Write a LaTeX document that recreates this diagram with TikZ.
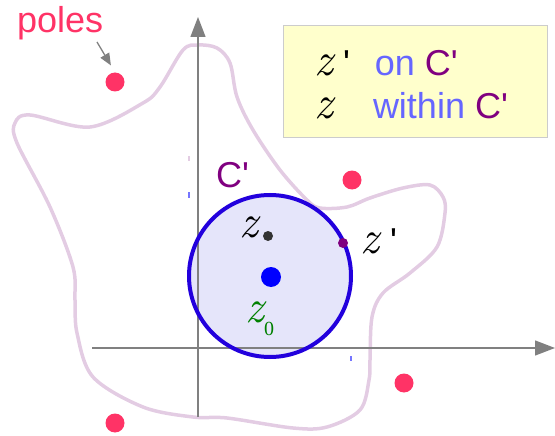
\documentclass[tikz,border=0pt]{standalone}
\usepackage{fontspec}
\newfontfamily\sansf{Liberation Sans}
\newfontfamily\serf{Liberation Serif}
\usetikzlibrary{arrows.meta}

\definecolor{polered}{HTML}{FF3366}
\definecolor{cpurple}{HTML}{800080}
\definecolor{lilac}{HTML}{E3CCE3}
\definecolor{ringblue}{HTML}{2200DD}
\definecolor{discfill}{HTML}{E5E5FA}
\definecolor{txtblue}{HTML}{6666FF}
\definecolor{notey}{HTML}{FFFFCC}
\definecolor{zgreen}{HTML}{008000}

\newcommand{\zvar}{{\fontsize{47}{47}\selectfont\rmfamily\itshape z}}
\newcommand{\aq}{{\sansf\textquotesingle}}

\tikzset{
  pole/.style={circle, fill=polered, inner sep=0pt, minimum width=18pt, minimum height=19pt},
  dot/.style={circle, inner sep=0pt, minimum size=10pt},
  axis/.style={gray, line width=1.4, -{Triangle[length=20pt,width=15pt]}},
  contour/.style={lilac, line width=3.5},
  lbl/.style={inner sep=0pt, anchor=base west},
  sanstxt/.style={font=\fontsize{36}{42}\selectfont\sansf}
}

\begin{document}
\begin{tikzpicture}[x=1pt,y=-1pt]
    \useasboundingbox (0,0) rectangle (555,436);

    % the contour C'
    \draw[contour] plot[smooth cycle, tension=.55] coordinates {
      (198,45) (217,48) (230,63) (237,97) (253,130) (280,170) (307,200)
      (320,208) (347,207) (370,198) (403,188) (430,185) (443,197) (445,213)
      (437,247) (410,273) (383,293) (372,317) (370,360) (369,380) (360,410)
      (327,427) (293,428) (227,418) (193,417) (143,407) (93,377) (77,333)
      (75,300) (73,267) (50,207) (17,143) (15,123) (30,115) (90,127)
      (143,103) (160,87) (183,50)};

    \fill[discfill] (270,276) circle(81);

    % axes
    \draw[axis] (92,348) -- (555,348);
    \draw[axis] (198,417) -- (198,17);

    \draw[ringblue, line width=4] (270,276) circle(81);

    % small marks
    \fill[lilac] (188,156) rectangle (190,161);
    \fill[txtblue!90] (188,192) rectangle (190,198);
    \fill[txtblue!90] (350,356) rectangle (352,361);

    % poles
    \node[pole] (p1) at (115,82) {};
    \node[pole] (p2) at (352,180) {};
    \node[pole] (p3) at (404,383) {};
    \node[pole] (p4) at (115,423) {};

    \node[lbl, text=polered, font=\fontsize{36}{40}\selectfont\sansf] (poles) at (17,33) {poles};
    \coordinate (ptail) at (97,42);
    \draw[gray, line width=1.3, -{Triangle[length=12pt,width=10pt]}, shorten >=8pt] (ptail) -- (p1.north);

    % points
    \node[circle, fill=blue, inner sep=0pt, minimum width=17pt, minimum height=20pt] (zc) at (271,277) {};
    \node[dot, fill=black!80] (zd) at (268,236) {};
    \node[dot, fill=cpurple] (zpd) at (343,243) {};

    \node[lbl] (zlab) at (239,237) {\zvar};
    \node[lbl, sanstxt] (zplab) at (360,253) {\zvar\hspace{11pt}\aq};
    \node[lbl, text=zgreen] (z0lab) at (245,322) {\zvar\raisebox{-13pt}{\fontsize{20}{20}\selectfont\serf 0}};
    \node[lbl, sanstxt, text=cpurple] (clab) at (216,187) {C\aq};

    % legend
    \draw[black!20, fill=notey] (283,25) rectangle (547,137);
    \node[lbl, sanstxt] (leg1) at (314,76)
      {\zvar\hspace{10pt}\aq\hspace{25pt}\textcolor{txtblue}{on} \textcolor{cpurple}{C\aq}};
    \node[lbl, sanstxt] (leg2) at (314,119)
      {\zvar\hspace{40pt}\textcolor{txtblue}{within} \textcolor{cpurple}{C\aq}};
\end{tikzpicture}
\end{document}
